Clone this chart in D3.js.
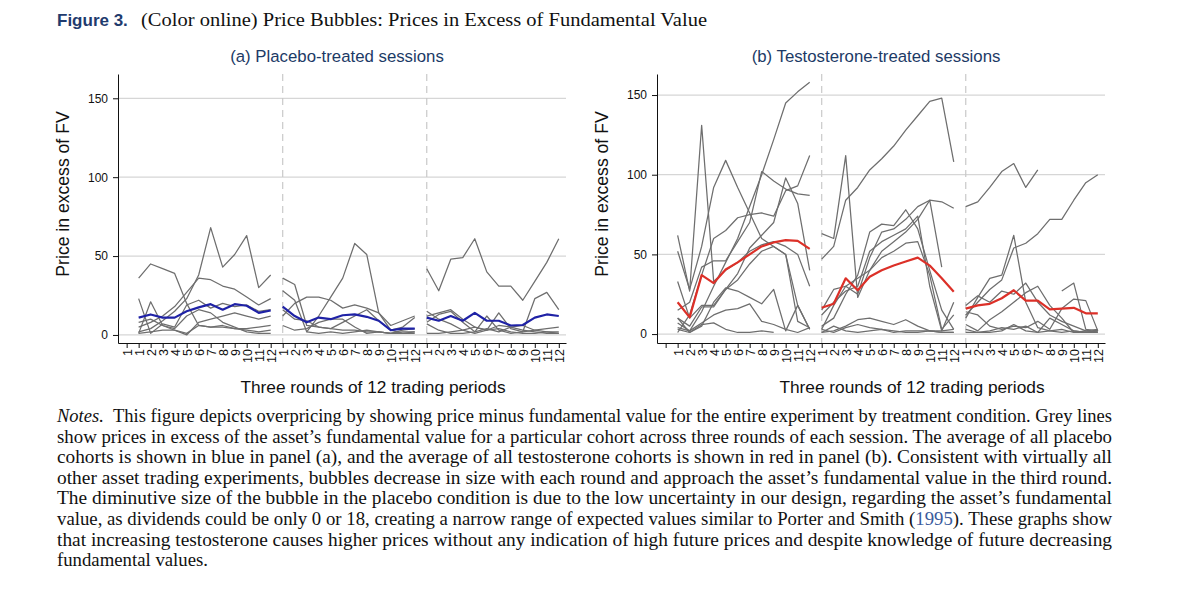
<!DOCTYPE html>
<html><head><meta charset="utf-8">
<script src="https://cdn.jsdelivr.net/npm/d3@7"></script>
<style>body{margin:0;background:#fff}svg{display:block}</style>
</head><body>
<svg id="c" width="1200" height="591"></svg>
<script>
// ---------- DATA ----------
const periods = d3.range(1, 13);          // 12 trading periods per round
const yTicks = [0, 50, 100, 150];
const roundBreaks = [13, 25];            // first period of rounds 2 and 3 (dashed lines)

// Panel (a) placebo cohorts, one array of series per round
const placeboR1 = [
  [36, 45, 42, 39, 20, 6, 5, 6, 4, 3, 2, 3],
  [2, 4, 9, 15, 23, 38, 68, 43, 51, 63, 30, 38],
  [5, 8, 12, 18, 27, 36, 35, 31, 29, 24, 19, 23],
  [23, 1, 7, 5, 19, 22, 17, 20, 18, 19, 15, 16],
  [1, 21, 6, 3, 0, 8, 10, 12, 14, 12, 10, 12],
  [1, 2, 3, 3, 1, 6, 5, 5, 4, 4, 5, 6],
  [8, 10, 6, 4, 12, 16, 14, 8, 5, 2, 1, 1]
];
const placeboR2 = [
  [36, 32, 6, 5, 4, 3, 3, 2, 2, 1, 1, 1],
  [28, 22, 2, 12, 24, 36, 58, 51, 14, 3, 1, 2],
  [12, 20, 24, 24, 22, 17, 19, 17, 14, 6, 9, 12],
  [16, 10, 9, 5, 4, 8, 12, 16, 9, 3, 5, 11],
  [6, 3, 4, 8, 10, 10, 5, 1, 2, 1, 3, 4],
  [null, null, 2, 1, 2, 1, 2, 3, 2, 1, 2, 2]
];
const placeboR3 = [
  [42, 28, 48, 49, 61, 40, 31, 31, 22, 34, 46, 61],
  [8, 13, 15, 8, 2, 12, 3, 1, 2, 23, 27, 16],
  [12, 14, 16, 10, 5, 3, 14, 4, 2, 3, 4, 5],
  [7, 3, 1, 1, 2, 4, 2, 5, 6, 3, 2, 1],
  [15, 10, 7, 3, 1, 3, 6, 5, 3, 2, 1, 1],
  [1, 1, 2, 3, 5, 3, 4, 2, 1, 1, 2, 2]
];
const placeboAvg = [
  [11, 13, 11, 11, 15, 17.5, 19.5, 16, 19.5, 18.5, 14, 15.5],
  [18, 12, 8, 11, 10, 12.5, 13, 11.5, 9, 3, 4, 4],
  [11, 9, 12, 9, 14, 9, 9, 6, 6.3, 11, 13, 12]
];

// Panel (b) testosterone cohorts
const testoR1 = [
  [4, 2, 14, 30, 45, 60, 80, 100, 122, 145, 152, 158],
  [62, 27, 131, 33, 40, 45, 52, 56, 58, 55, 50, 30],
  [52, 28, 55, 92, 109, 92, 76, 60, 55, 50, 18, 3],
  [15, 20, 42, 46, 46, 58, 70, 102, 96, 91, 88, 87],
  [10, 5, 17, 17, 28, 38, 54, 62, 70, 98, 82, 40],
  [1, 12, 37, 60, 65, 73, 75, 76, 74, 90, 93, 112],
  [10, 1, 5, 20, 29, 27, 23, 19, 28, 2, 18, 3],
  [7, 2, 7, 12, 15, 16, 19, 8, 6, 3, 1, 4],
  [3, 1, 6, 7, 3, 1, 1, 2, 1, null, null, null],
  [33, 10, 18, 18, 28, 34, 44, 52, 55, 50, 8, 4]
];
const testoR2 = [
  [47, 55, 84, 92, 103, 110, 118, 128, 137, 146, 148, 108],
  [63, 60, 112, 23, 40, 52, 58, 64, 72, 84, 42, null],
  [15, 28, 30, 25, 48, 64, 66, 72, 80, 84, 83, 79],
  [12, 20, 27, 30, 52, 58, 62, 66, 74, 30, 2, 20],
  [5, 10, 25, 37, 64, 69, 68, 78, 66, 40, 15, 3],
  [3, 18, 30, 35, 40, 48, 52, 57, 58, 37, 3, 12],
  [1, 2, 5, 9, 10, 8, 6, 9, 5, 2, 2, 3],
  [3, 1, 4, 6, 4, 3, 1, 2, 2, 2, 1, 1],
  [1, 5, 2, 1, 2, 3, 2, 1, 1, 2, 1, 1]
];
const testoR3 = [
  [80, 83, 92, 102, 107, 92, 103, null, null, null, null, null],
  [12, 20, 28, 34, 54, 57, 63, 72, 72, 84, 95, 100],
  [10, 23, 35, 37, 62, 20, 4, 2, 1, 2, 1, 1],
  [18, 24, 20, 27, 25, 32, 20, 12, 8, 5, 2, 3],
  [6, 2, 9, 14, 20, 26, 30, 18, 10, 1, 1, 2],
  [null, null, null, null, null, null, null, null, 27, 32, 3, 2],
  [14, 12, 5, 3, 5, 4, 8, 3, 16, 22, 21, 2],
  [3, 1, 2, 4, 3, 5, 1, 2, 3, 1, 2, 1],
  [1, 1, 1, 2, 6, 2, 1, 10, 6, 2, 1, 2]
];
const testoAvg = [
  [20, 10.5, 37, 32, 40.5, 45, 50, 55, 57.5, 59, 58.5, 53.5],
  [16.5, 19, 35, 27.5, 36, 40, 43, 45.5, 48, 43, 35, 26.5],
  [16, 18, 19, 22.5, 27.5, 21, 21, 15.5, 16, 16.5, 13, 13]
];

const tickLabelsA = ["1"].concat(d3.range(3).flatMap(() => periods.map(String)));
const tickLabelsB = [""].concat(d3.range(3).flatMap(() => periods.map(String)));

const titleBold = "Figure 3.";
const titleRest = "(Color online) Price Bubbles: Prices in Excess of Fundamental Value";
const yTitle = "Price in excess of FV";
const xTitle = "Three rounds of 12 trading periods";
const notes = [
  ["This figure depicts overpricing by showing price minus fundamental value for the entire experiment by treatment condition. Grey lines"],
  ["show prices in excess of the asset\u2019s fundamental value for a particular cohort across three rounds of each session. The average of all placebo"],
  ["cohorts is shown in blue in panel (a), and the average of all testosterone cohorts is shown in red in panel (b). Consistent with virtually all"],
  ["other asset trading experiments, bubbles decrease in size with each round and approach the asset\u2019s fundamental value in the third round."],
  ["The diminutive size of the bubble in the placebo condition is due to the low uncertainty in our design, regarding the asset\u2019s fundamental"],
  ["value, as dividends could be only 0 or 18, creating a narrow range of expected values similar to Porter and Smith (", "1995", "). These graphs show"],
  ["that increasing testosterone causes higher prices without any indication of high future prices and despite knowledge of future decreasing"],
  ["fundamental values."]
];

// ---------- DRAW ----------
const svg = d3.select("#c");
const SANS = "'Liberation Sans', Arial, sans-serif";
const SERIF = "'Liberation Serif', 'Times New Roman', serif";

// Figure title
svg.append("text").attr("x", 57).attr("y", 26).attr("font-family", SANS)
  .attr("font-size", 17).attr("font-weight", "bold").attr("fill", "#1f3b6e").text(titleBold);
svg.append("text").attr("x", 141).attr("y", 26).attr("font-family", SERIF)
  .attr("font-size", 18.5).attr("fill", "#111").attr("textLength", 566)
  .attr("lengthAdjust", "spacingAndGlyphs").text(titleRest);

function drawPanel(cfg) {
  const g = svg.append("g");
  const x = d3.scaleLinear().domain([-0.72, 36.6]).range([cfg.axisX, cfg.axisX + 448]);
  const y = d3.scaleLinear().domain(cfg.yDomain).range([343, 74]);

  // grid
  g.selectAll(".grid").data(yTicks).join("line")
    .attr("x1", cfg.axisX).attr("x2", cfg.axisX + 448)
    .attr("y1", d => y(d)).attr("y2", d => y(d))
    .attr("stroke", "#d6d6d6").attr("stroke-width", 1.2);

  // round separators
  g.selectAll(".sep").data(roundBreaks).join("line")
    .attr("x1", d => x(d)).attr("x2", d => x(d))
    .attr("y1", 74).attr("y2", 343)
    .attr("stroke", "#c9c9c9").attr("stroke-width", 1.2).attr("stroke-dasharray", "7,5");

  const line = d3.line().defined(d => d[1] != null)
    .x(d => x(d[0])).y(d => y(d[1]));

  cfg.rounds.forEach((series, r) => {
    series.forEach(s => {
      const pts = s.map((v, i) => [12 * r + periods[i], v]);
      g.append("path").attr("d", line(pts)).attr("fill", "none")
        .attr("stroke", "#6e6e6e").attr("stroke-width", 1.25).attr("stroke-linejoin", "round");
    });
  });
  cfg.avg.forEach((s, r) => {
    const pts = s.map((v, i) => [12 * r + periods[i], v]);
    g.append("path").attr("d", line(pts)).attr("fill", "none")
      .attr("stroke", cfg.avgColor).attr("stroke-width", 2.2).attr("stroke-linejoin", "round");
  });

  // y axis
  const ya = g.append("g").attr("transform", `translate(${cfg.axisX},0)`)
    .call(d3.axisLeft(y).tickValues(yTicks).tickSize(5).tickSizeOuter(0).tickPadding(5));
  ya.selectAll("text").attr("font-family", SANS).attr("font-size", 12).attr("fill", "#111");
  ya.selectAll("line,path").attr("stroke", "#111");

  // x axis
  const xa = g.append("g").attr("transform", "translate(0,343)")
    .call(d3.axisBottom(x).tickValues(d3.range(0, 37)).tickFormat(d => cfg.tickLabels[d])
      .tickSize(5).tickSizeOuter(0));
  xa.selectAll("line,path").attr("stroke", "#111");
  xa.selectAll("text").attr("font-family", SANS).attr("font-size", 12.5).attr("fill", "#111")
    .attr("transform", "rotate(-90)").attr("text-anchor", "end")
    .attr("x", -6).attr("y", 0).attr("dy", "0.36em");

  // titles
  g.append("text").attr("x", cfg.axisX + 219).attr("y", 62).attr("text-anchor", "middle")
    .attr("font-family", SANS).attr("font-size", 16.8).attr("fill", "#1c3a66").text(cfg.title);
  g.append("text").attr("x", cfg.axisX + 255).attr("y", 393).attr("text-anchor", "middle")
    .attr("font-family", SANS).attr("font-size", 17.3).attr("fill", "#111").text(xTitle);
  g.append("text").attr("transform", `translate(${cfg.axisX - 49},194) rotate(-90)`)
    .attr("text-anchor", "middle").attr("font-family", SANS).attr("font-size", 17.6)
    .attr("fill", "#111").text(yTitle);
}

drawPanel({axisX: 118, yDomain: [-5.1, 165.4], rounds: [placeboR1, placeboR2, placeboR3],
  avg: placeboAvg, avgColor: "#1f22a6", title: "(a) Placebo-treated sessions", tickLabels: tickLabelsA});
drawPanel({axisX: 657, yDomain: [-5.6, 163.2], rounds: [testoR1, testoR2, testoR3],
  avg: testoAvg, avgColor: "#dc3028", title: "(b) Testosterone-treated sessions", tickLabels: tickLabelsB});

// Notes
notes.forEach((parts, i) => {
  const last = i === notes.length - 1;
  const tx = svg.append("text").attr("x", 57).attr("y", 422 + i * 20.6)
    .attr("font-family", SERIF).attr("font-size", 18.3).attr("fill", "#111");
  if (i === 0) {
    tx.append("tspan").attr("font-style", "italic").text("Notes.");
    tx.append("tspan").text("\u00a0\u00a0" + parts[0]);
  } else {
    parts.forEach((p, k) => tx.append("tspan").attr("fill", k === 1 ? "#3a5a9c" : "#111").text(p));
  }
  tx.attr("textLength", last ? 151 : 1055).attr("lengthAdjust", "spacingAndGlyphs");
});
</script>
</body></html>
